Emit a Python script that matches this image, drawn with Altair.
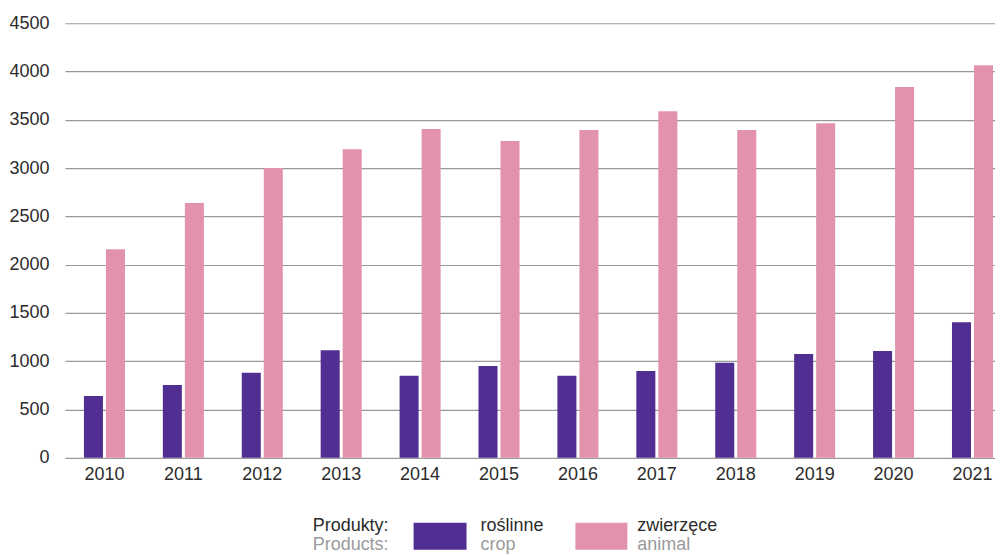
import altair as alt
import pandas as pd

years = [str(y) for y in range(2010, 2022)]
crop = [640, 755, 880, 1115, 850, 950, 850, 900, 985, 1075, 1105, 1405]
animal = [2160, 2640, 3000, 3195, 3405, 3280, 3395, 3590, 3395, 3465, 3840, 4065]
series_key = ["crop", "animal"]
series_pl = ["roślinne", "zwierzęce"]
series_en = ["crop", "animal"]
colors = ["#512e92", "#e293ab"]
y_ticks = list(range(0, 4501, 500))

rows = []
for i, yr in enumerate(years):
    rows.append({"year": yr, "product": "crop", "value": crop[i]})
    rows.append({"year": yr, "product": "animal", "value": animal[i]})
df = pd.DataFrame(rows)

FONT = "Liberation Sans"
DARK = "#2b2b2b"
GREY = "#9a9a9a"
FS = 18

bars = alt.Chart(df).mark_bar().encode(
    x=alt.X(
        "year:N", sort=years, title=None,
        scale=alt.Scale(paddingInner=0.48, paddingOuter=0.133, align=0.905),
        axis=alt.Axis(labelAngle=0, ticks=False, domain=False, labelPadding=8,
                      labelFontSize=FS, labelColor=DARK, labelFont=FONT),
    ),
    xOffset=alt.XOffset("product:N", sort=series_key,
                        scale=alt.Scale(paddingInner=0.136, paddingOuter=0)),
    y=alt.Y(
        "value:Q", title=None,
        scale=alt.Scale(domain=[0, 4500], nice=False),
        axis=alt.Axis(values=y_ticks, format="d", ticks=False, domain=False, labelPadding=16,
                      grid=True, gridColor="#999999", gridWidth=1.2,
                      labelFontSize=FS, labelColor=DARK, labelFont=FONT),
    ),
    color=alt.Color("product:N", scale=alt.Scale(domain=series_key, range=colors), legend=None),
)

one = alt.Data(values=[{}])


def rect(x0, x1, color):
    return alt.Chart(one).mark_rect(color=color).encode(
        x=alt.value(x0), x2=alt.value(x1), y=alt.value(500), y2=alt.value(527)
    )


def label(txt, x, y, color):
    return alt.Chart(one).mark_text(
        text=txt, align="left", baseline="alphabetic", fontSize=FS, font=FONT, color=color
    ).encode(x=alt.value(x), y=alt.value(y))


legend = [
    label("Produkty:", 248, 508, DARK),
    label("Products:", 248, 527, GREY),
    rect(349, 402, colors[0]),
    label(series_pl[0], 416, 508, DARK),
    label(series_en[0], 416, 527, GREY),
    rect(511, 563, colors[1]),
    label(series_pl[1], 573, 508, DARK),
    label(series_en[1], 573, 527, GREY),
]

chart = alt.layer(bars, *legend).properties(
    width=931, height=435,
    padding={"left": 0, "top": 6, "right": 0, "bottom": 0},
).configure_view(stroke=None)

chart.save("out.html", embed_options={"renderer": "svg", "actions": False})
